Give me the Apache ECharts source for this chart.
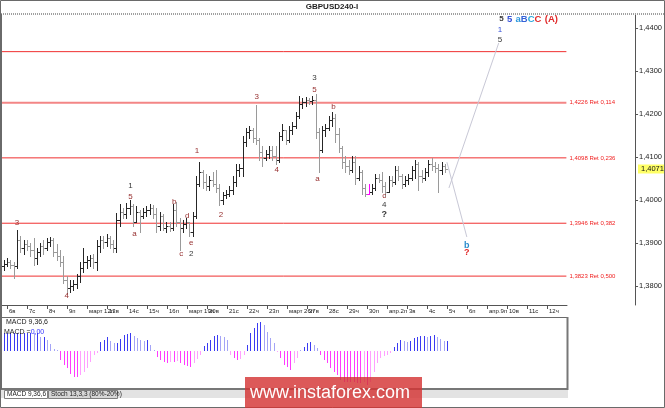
<!DOCTYPE html>
<html><head><meta charset="utf-8">
<script src="https://cdn.jsdelivr.net/npm/echarts@6/dist/echarts.min.js"></script>
<style>html,body{margin:0;padding:0;background:#fff}#c{width:665px;height:408px}</style>
</head><body><div id="c"></div><script>
const dayLabels = ['6в','7с','8ч','9п','март 12п','13в','14с','15ч','16п','март 19п','20в','21с','22ч','23п','март 26п','27в','28с','29ч','30п','апр.2п','3в','4с','5ч','6п','апр.9п','10в','11с','12ч'];
const priceTicks = [1.38,1.39,1.40,1.41,1.42,1.43,1.44];
const open = [1.3847,1.3851,1.3856,1.3849,1.3847,1.3907,1.3888,1.3898,1.3893,1.3884,
1.3865,1.3879,1.3893,1.3888,1.3902,1.3907,1.3879,1.3870,1.3856,1.3814,
1.3795,1.3800,1.3805,1.3823,1.3842,1.3856,1.3860,1.3865,1.3856,1.3893,
1.3907,1.3902,1.3912,1.3898,1.3888,1.3953,1.3972,1.3967,1.3981,1.3986,
1.3949,1.3972,1.3963,1.3972,1.3977,1.3981,1.3967,1.3940,1.3963,1.3935,
1.3940,1.3935,1.3977,1.3949,1.3935,1.3944,1.3949,1.3926,1.3963,1.4037,
1.4065,1.4042,1.4033,1.4047,1.4037,1.4028,1.4000,1.4012,1.4014,1.4023,
1.4042,1.4070,1.4074,1.4135,1.4158,1.4163,1.4144,1.4140,1.4112,1.4098,
1.4107,1.4116,1.4102,1.4093,1.4149,1.4163,1.4140,1.4163,1.4172,1.4195,
1.4223,1.4228,1.4233,1.4230,1.4233,1.4158,1.4116,1.4163,1.4167,1.4186,
1.4191,1.4153,1.4121,1.4088,1.4079,1.4070,1.4088,1.4051,1.4065,1.4028,
1.4014,1.4019,1.4028,1.4051,1.4047,1.4033,1.4019,1.4047,1.4042,1.4070,
1.4056,1.4037,1.4047,1.4051,1.4070,1.4084,1.4056,1.4051,1.4065,1.4084,
1.4079,1.4074,1.4070,1.4079];
const high = [1.3860,1.3865,1.3860,1.3856,1.3930,1.3916,1.3907,1.3907,1.3900,1.3912,
1.3888,1.3900,1.3907,1.3912,1.3914,1.3912,1.3898,1.3884,1.3870,1.3823,
1.3814,1.3814,1.3828,1.3856,1.3888,1.3870,1.3872,1.3874,1.3907,1.3916,
1.3916,1.3921,1.3916,1.3907,1.3970,1.3991,1.3981,1.3993,1.4000,1.3991,
1.3986,1.3977,1.3981,1.3986,1.3991,1.3988,1.3981,1.3972,1.3967,1.3949,
1.3949,1.3991,1.3995,1.3958,1.3953,1.3958,1.3949,1.3972,1.4056,1.4088,
1.4070,1.4060,1.4056,1.4065,1.4070,1.4037,1.4019,1.4023,1.4033,1.4056,
1.4084,1.4084,1.4149,1.4167,1.4172,1.4167,1.4221,1.4144,1.4126,1.4116,
1.4126,1.4126,1.4126,1.4158,1.4177,1.4163,1.4172,1.4181,1.4205,1.4242,
1.4237,1.4240,1.4237,1.4242,1.4247,1.4167,1.4172,1.4177,1.4195,1.4205,
1.4200,1.4167,1.4126,1.4102,1.4093,1.4102,1.4102,1.4079,1.4070,1.4037,
1.4037,1.4037,1.4060,1.4060,1.4065,1.4042,1.4056,1.4056,1.4079,1.4079,
1.4060,1.4056,1.4060,1.4079,1.4093,1.4088,1.4070,1.4074,1.4093,1.4098,
1.4088,1.4084,1.4088,1.4084];
const low = [1.3837,1.3847,1.3842,1.3819,1.3842,1.3879,1.3874,1.3884,1.3870,1.3849,
1.3851,1.3870,1.3874,1.3884,1.3893,1.3870,1.3860,1.3847,1.3807,1.3781,
1.3786,1.3791,1.3795,1.3809,1.3833,1.3842,1.3847,1.3842,1.3837,1.3879,
1.3888,1.3893,1.3888,1.3879,1.3879,1.3940,1.3958,1.3958,1.3967,1.3940,
1.3949,1.3926,1.3958,1.3963,1.3967,1.3958,1.3926,1.3930,1.3930,1.3926,
1.3928,1.3930,1.3940,1.3884,1.3926,1.3935,1.3916,1.3916,1.3958,1.4033,
1.4028,1.4023,1.4023,1.4033,1.4019,1.3988,1.3991,1.4005,1.4009,1.4014,
1.4033,1.4056,1.4056,1.4126,1.4144,1.4135,1.4130,1.4093,1.4079,1.4093,
1.4098,1.4093,1.4084,1.4088,1.4140,1.4130,1.4135,1.4153,1.4167,1.4191,
1.4214,1.4219,1.4223,1.4223,1.4144,1.4065,1.4112,1.4149,1.4163,1.4172,
1.4135,1.4112,1.4074,1.4065,1.4060,1.4065,1.4037,1.4047,1.4014,1.4009,
1.4014,1.4014,1.4023,1.4042,1.4019,1.4009,1.4019,1.4033,1.4037,1.4047,
1.4028,1.4033,1.4037,1.4047,1.4051,1.4023,1.4042,1.4047,1.4056,1.4070,
1.4065,1.4019,1.4060,1.4065];
const close = [1.3851,1.3856,1.3849,1.3847,1.3907,1.3888,1.3898,1.3893,1.3884,1.3865,
1.3879,1.3893,1.3888,1.3902,1.3907,1.3879,1.3870,1.3856,1.3814,1.3795,
1.3800,1.3805,1.3823,1.3842,1.3856,1.3860,1.3865,1.3856,1.3893,1.3907,
1.3902,1.3912,1.3898,1.3888,1.3953,1.3972,1.3967,1.3981,1.3986,1.3949,
1.3972,1.3963,1.3972,1.3977,1.3981,1.3967,1.3940,1.3963,1.3935,1.3940,
1.3935,1.3977,1.3949,1.3935,1.3944,1.3949,1.3926,1.3963,1.4037,1.4065,
1.4042,1.4033,1.4047,1.4037,1.4028,1.4000,1.4012,1.4014,1.4023,1.4042,
1.4070,1.4074,1.4135,1.4158,1.4163,1.4144,1.4140,1.4112,1.4098,1.4107,
1.4116,1.4102,1.4093,1.4149,1.4163,1.4140,1.4163,1.4172,1.4195,1.4223,
1.4228,1.4233,1.4230,1.4233,1.4158,1.4116,1.4163,1.4167,1.4186,1.4191,
1.4153,1.4121,1.4088,1.4079,1.4070,1.4088,1.4051,1.4065,1.4028,1.4014,
1.4019,1.4028,1.4051,1.4047,1.4033,1.4019,1.4047,1.4042,1.4070,1.4056,
1.4037,1.4047,1.4051,1.4070,1.4084,1.4056,1.4051,1.4065,1.4084,1.4079,
1.4074,1.4070,1.4079,1.4071];
const macdHist = [0.00177,0.00177,0.00177,0.00177,0.00183,0.00183,0.00183,0.00183,0.00183,0.00177,
0.00177,0.00143,0.00143,0.00110,0.00067,0.00020,0.00007,-0.00090,-0.00140,-0.00173,
-0.00230,-0.00257,-0.00257,-0.00240,-0.00207,-0.00173,-0.00107,-0.00040,-0.00017,0.00093,
0.00110,0.00143,0.00103,0.00077,0.00077,0.00117,0.00160,0.00170,0.00183,0.00150,
0.00127,0.00110,0.00103,0.00110,0.00060,0.00010,-0.00057,-0.00090,-0.00107,-0.00117,
-0.00107,-0.00107,-0.00097,-0.00117,-0.00140,-0.00150,-0.00157,-0.00123,-0.00083,-0.00040,
0.00050,0.00077,0.00110,0.00150,0.00160,0.00150,0.00137,0.00110,-0.00040,-0.00073,
-0.00090,-0.00083,-0.00040,0.00060,0.00177,0.00227,0.00277,0.00293,0.00260,0.00193,
0.00127,0.00077,-0.00013,-0.00073,-0.00140,-0.00157,-0.00190,-0.00123,-0.00073,0.00010,
0.00043,0.00083,0.00093,0.00060,0.00027,-0.00040,-0.00090,-0.00123,-0.00173,-0.00207,
-0.00240,-0.00290,-0.00307,-0.00307,-0.00307,-0.00307,-0.00317,-0.00323,-0.00307,-0.00340,
-0.00307,-0.00207,-0.00123,-0.00073,-0.00050,-0.00040,-0.00023,0.00037,0.00083,0.00110,
0.00103,0.00093,0.00103,0.00127,0.00143,0.00150,0.00150,0.00143,0.00150,0.00160,
0.00143,0.00117,0.00103,0.00103];
const fibLevels = [1.4345,1.4226,1.4098,1.3946,1.3823];
const fibLabels = ['','1,4226 Ret 0,114','1,4098 Ret 0,236','1,3946 Ret 0,382','1,3823 Ret 0,500'];
const waveText  = ['3','4','1','5','a','b','c','d','e','2','1','2','3','4','3','5','a','b','c','4','?','b','?','1','5'];
const waveBar   = [4.0,19.0,38.2,38.2,39.4,51.4,53.5,55.3,56.5,56.5,58.3,65.5,76.3,82.3,93.7,93.7,94.6,99.4,114.7,114.7,114.7,139.6,139.6,149.6,149.6];
const wavePrice = [1.3947,1.3777,1.4033,1.4007,1.3921,1.3995,1.3874,1.3963,1.3900,1.3874,1.4114,1.3965,1.4240,1.4070,1.4284,1.4256,1.4049,1.4216,1.4009,1.3988,1.3967,1.3895,1.3877,1.4395,1.4372];
const waveTone  = ['br','br','dk','br','br','br','br','br','br','dk','br','br','br','br','dk','br','br','br','br','dk','dk','tl','rd','bl','dk'];
const headerBar = 158.2, headerPrice = 1.4421;
const forecastUp = [[134.2,1.4028],[149.2,1.4365]];
const forecastDown = [[133.6,1.4088],[139.6,1.3914]];
const highlightBar = 110;

const X_MIN = -0.8, X_MAX_MAIN = 190.3, X_MAX_SUB = 169.0, FIB_END = 169.6;
const Y_MIN = 1.3755814, Y_MAX = 1.4432558;
const FONT = '"Liberation Sans", Arial, sans-serif';
const toneColor = {br:'#973030', dk:'#383838', bl:'#3450d8', tl:'#2a8ccc', rd:'#e02828'};
const dayTickBars = dayLabels.map((_, k) => 1 + 6 * k);
const lastClose = close[close.length - 1];

const chart = echarts.init(document.getElementById('c'), null, {renderer: 'canvas'});

function renderOHLC(params, api) {
  const j = api.value(0), o = api.value(1), h = api.value(2), l = api.value(3), c = api.value(4);
  const ph = api.coord([j, h]), pl = api.coord([j, l]), po = api.coord([j, o]), pc = api.coord([j, c]);
  const n = Math.round(ph[0]);
  const x = n + 0.5;
  const col = j === highlightBar ? '#ff00ff' : (c >= o ? '#262626' : '#9a9a9a');
  const yo = Math.round(po[1]) + 0.5, yc = Math.round(pc[1]) + 0.5;
  return {type: 'group', children: [
    {type: 'line', shape: {x1: x, y1: Math.round(ph[1]), x2: x, y2: Math.round(pl[1]) + 1}, style: {stroke: col, lineWidth: 1}},
    {type: 'line', shape: {x1: n - 2, y1: yo, x2: n, y2: yo}, style: {stroke: col, lineWidth: 1}},
    {type: 'line', shape: {x1: n + 1, y1: yc, x2: n + 3, y2: yc}, style: {stroke: col, lineWidth: 1}}
  ]};
}

function renderMACD(params, api) {
  const j = api.value(0), v = api.value(1);
  const p0 = api.coord([j, 0]), p1 = api.coord([j, v]);
  const prev = params.dataIndex > 0 ? macdHist[params.dataIndex - 1] : v;
  const growing = Math.abs(v) >= Math.abs(prev);
  const col = v >= 0 ? (growing ? '#3b3bf2' : '#a4a4f6') : (growing ? '#ff3cff' : '#ffa0ff');
  const x = Math.round(p0[0]);
  const y0 = Math.round(p0[1]), y1 = Math.round(p1[1]);
  return {type: 'rect', shape: {x: x, y: Math.min(y0, y1), width: 1, height: Math.max(1, Math.abs(y1 - y0))}, style: {fill: col}};
}

function renderLabel(params, api) {
  const i = params.dataIndex;
  const p = api.coord([api.value(0), api.value(1)]);
  const strong = waveText[i] === '?' || waveTone[i] === 'tl' || waveTone[i] === 'rd';
  return {type: 'text', style: {x: p[0], y: p[1], text: waveText[i], fill: toneColor[waveTone[i]],
    font: (strong ? 'bold 9px ' : '8px ') + FONT, textAlign: 'center', textVerticalAlign: 'middle'}};
}

function renderHeader(params, api) {
  const p = api.coord([api.value(0), api.value(1)]);
  const f = 'bold 9.5px ' + FONT;
  return {type: 'text', style: {x: p[0], y: p[1], textAlign: 'center', textVerticalAlign: 'middle',
    text: '{d|5} {b|5} {t|a}{b2|B}{t2|C}{r|C} {r|(A)}',
    rich: {
      d: {fill: '#383838', font: 'bold 8px ' + FONT},
      b: {fill: '#3450d8', font: f},
      t: {fill: '#2a98dd', font: f},
      b2: {fill: '#3462d8', font: f},
      t2: {fill: '#2aa8dd', font: f},
      r: {fill: '#e02828', font: f}
    }}};
}

const series = [];
series.push({
  type: 'custom', name: 'ohlc', xAxisIndex: 0, yAxisIndex: 0, renderItem: renderOHLC,
  encode: {x: 0, y: [1, 2, 3, 4]},
  data: open.map((o, j) => [j, o, high[j], low[j], close[j]]), z: 3
});
fibLevels.forEach((lvl, i) => {
  series.push({
    type: 'line', xAxisIndex: 0, yAxisIndex: 0, symbol: 'none', silent: true, z: 2,
    data: [[X_MIN, lvl], [FIB_END, lvl]],
    lineStyle: {color: i === 1 ? '#f38686' : '#f03030', width: i === 1 ? 2 : 1},
    endLabel: {show: fibLabels[i] !== '', formatter: () => fibLabels[i], color: '#f02020', fontSize: 6, fontFamily: FONT, distance: 3}
  });
});
[forecastUp, forecastDown].forEach(seg => series.push({
  type: 'line', xAxisIndex: 0, yAxisIndex: 0, symbol: 'none', silent: true, z: 2,
  data: seg, lineStyle: {color: '#c8c8d6', width: 1}
}));
series.push({
  type: 'custom', name: 'waves', xAxisIndex: 0, yAxisIndex: 0, renderItem: renderLabel, z: 5, clip: false,
  encode: {x: 0, y: 1}, data: waveBar.map((b, i) => [b, wavePrice[i]])
});
series.push({
  type: 'custom', name: 'header', xAxisIndex: 0, yAxisIndex: 0, renderItem: renderHeader, z: 5, clip: false,
  encode: {x: 0, y: 1}, data: [[headerBar, headerPrice]]
});
series.push({
  type: 'custom', name: 'macd', xAxisIndex: 2, yAxisIndex: 2, renderItem: renderMACD,
  encode: {x: 0, y: 1}, data: macdHist.map((v, j) => [j, v])
});

const txt = (id, x, y, text, font, fill, align, z) => ({type: 'text', id: id, z: z || 10, style: {text: text, x: x, y: y, font: font, fill: fill, textAlign: align || 'left', textVerticalAlign: 'middle'}});
const baseGraphics = [
  {type: 'rect', id: 'frame', z: 20, shape: {x: 0.5, y: 0.5, width: 664, height: 407}, style: {fill: 'none', stroke: '#6a6a6a', lineWidth: 1}},
  {type: 'line', id: 'leftb', z: 20, shape: {x1: 1.5, y1: 14, x2: 1.5, y2: 389}, style: {stroke: '#6a6a6a', lineWidth: 1}},
  txt('title', 332, 6.5, 'GBPUSD240-I', 'bold 8px ' + FONT, '#1e1e1e', 'center'),
  {type: 'line', id: 'band', z: 10, shape: {x1: 1, y1: 14, x2: 665, y2: 14}, style: {stroke: '#a0a0a0', lineWidth: 2, lineDash: [1, 1]}},
  {type: 'line', id: 'mtop', z: 10, shape: {x1: 0, y1: 317.5, x2: 568, y2: 317.5}, style: {stroke: '#6a6a6a', lineWidth: 1}},
  {type: 'line', id: 'mright', z: 10, shape: {x1: 567.5, y1: 317, x2: 567.5, y2: 390}, style: {stroke: '#777', lineWidth: 2}},
  {type: 'line', id: 'mbottom', z: 10, shape: {x1: 0, y1: 389, x2: 568, y2: 389}, style: {stroke: '#777', lineWidth: 2}},
  {type: 'rect', id: 'tabband', z: 9, shape: {x: 1, y: 390, width: 567, height: 8}, style: {fill: '#e3e3e3'}},
  {type: 'rect', id: 'tab1', z: 10, shape: {x: 4.5, y: 390.5, width: 43, height: 8}, style: {fill: '#ffffff', stroke: '#808080', lineWidth: 1}},
  txt('tab1t', 7, 394.5, 'MACD 9,36,6', '6.5px ' + FONT, '#222', 'left', 11),
  {type: 'rect', id: 'tab2', z: 10, shape: {x: 48.5, y: 390.5, width: 69, height: 8}, style: {fill: '#d6d6d6', stroke: '#808080', lineWidth: 1}},
  txt('tab2t', 51, 394.5, 'Stoch 13,3,3 (80%-20%)', '6.5px ' + FONT, '#222', 'left', 11),
  txt('macd1', 6, 322, 'MACD 9,36,6', '7px ' + FONT, '#222'),
  {type: 'text', id: 'macd2', z: 10, style: {x: 4, y: 332, textVerticalAlign: 'middle', text: '{a|MACD =}{b|0,00}', rich: {a: {font: '7px ' + FONT, fill: '#222'}, b: {font: '7px ' + FONT, fill: '#3030ff'}}}},
  {type: 'rect', id: 'wm', z: 30, shape: {x: 245, y: 377, width: 177, height: 31}, style: {fill: 'rgba(212,52,52,0.82)'}},
  txt('wmt', 250, 393, 'www.instaforex.com', '18px ' + FONT, '#ffffff', 'left', 31)
];

chart.setOption({
  animation: false,
  backgroundColor: '#ffffff',
  grid: [
    {left: 1, top: 14, width: 637, height: 291},
    {left: 1, top: 304, width: 566, height: 1},
    {left: 1, top: 318, width: 566, height: 70}
  ],
  xAxis: [
    {gridIndex: 0, type: 'value', min: X_MIN, max: X_MAX_MAIN, show: false, splitLine: {show: false}},
    {gridIndex: 1, type: 'value', min: X_MIN, max: X_MAX_SUB, position: 'bottom',
     axisLine: {show: true, onZero: false, lineStyle: {color: '#555', width: 1}},
     axisTick: {show: true, customValues: dayTickBars, length: 4, lineStyle: {color: '#555'}},
     axisLabel: {show: true, customValues: dayTickBars, formatter: v => dayLabels[Math.round((v - 1) / 6)], align: 'left', fontSize: 6, fontFamily: FONT, color: '#222', margin: 3, padding: [0, 0, 0, 2]},
     splitLine: {show: false}},
    {gridIndex: 2, type: 'value', min: X_MIN, max: X_MAX_SUB, show: false, splitLine: {show: false}}
  ],
  yAxis: [
    {gridIndex: 0, type: 'value', position: 'right', min: Y_MIN, max: Y_MAX, scale: true,
     axisLine: {show: true, onZero: false, lineStyle: {color: '#555'}},
     axisTick: {show: true, customValues: priceTicks, length: 3, lineStyle: {color: '#555'}},
     axisLabel: {show: true, customValues: priceTicks, formatter: v => v.toFixed(4).replace('.', ','), fontSize: 7.5, fontFamily: FONT, color: '#222', margin: 4},
     splitLine: {show: false}},
    {gridIndex: 1, type: 'value', min: 0, max: 1, show: false, splitLine: {show: false}},
    {gridIndex: 2, type: 'value', min: -0.0037, max: 0.0033, show: false, splitLine: {show: false}}
  ],
  series: series,
  graphic: {elements: baseGraphics}
});

const tagY = chart.convertToPixel({yAxisIndex: 0}, lastClose);
chart.setOption({graphic: {elements: baseGraphics.concat([
  {type: 'rect', id: 'tag', z: 12, shape: {x: 638, y: Math.round(tagY) - 4.5, width: 26, height: 9}, style: {fill: '#ffff66'}},
  txt('tagt', 641, Math.round(tagY), lastClose.toFixed(4).replace('.', ','), '7.5px ' + FONT, '#111', 'left', 13)
])}});
</script></body></html>
